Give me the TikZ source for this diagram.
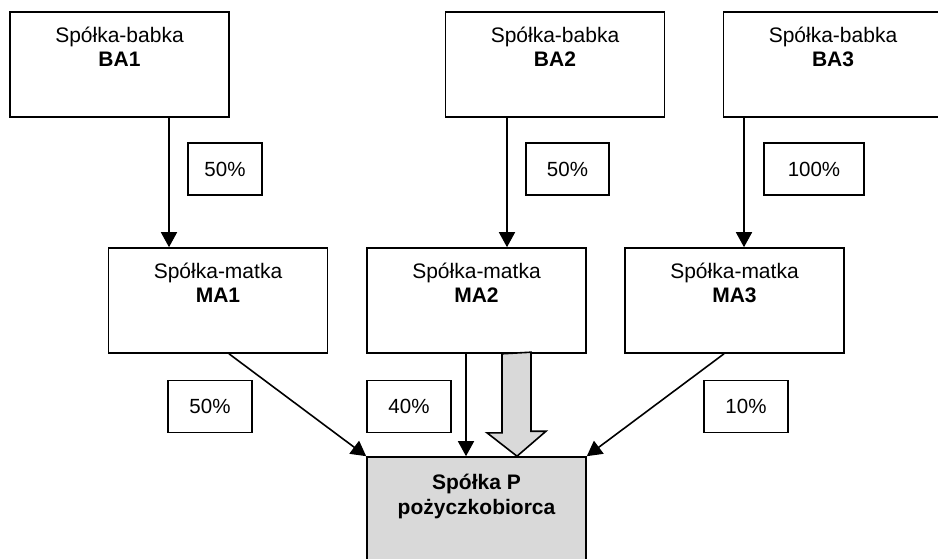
\documentclass[tikz,border=0pt]{standalone}
\usepackage{fontspec}
\setmainfont{Liberation Sans}
\usetikzlibrary{arrows.meta}
\definecolor{pgray}{RGB}{217,217,217}

\begin{document}
\begin{tikzpicture}[x=1pt, y=-1pt, >={Triangle[length=15pt,width=16pt]}, line width=1.6pt]
    \tikzstyle{firm}=[rectangle, draw, minimum width=219pt, minimum height=105pt, inner sep=0pt]
    \tikzstyle{firmtext}=[anchor=base, yshift=-55pt, align=center, inner sep=0pt, font=\fontsize{21}{24}\selectfont]
    \tikzstyle{share}=[rectangle, draw, minimum width=84pt, minimum height=52pt, inner sep=2pt, font=\fontsize{20.5}{24}\selectfont]

    \useasboundingbox (0,0) rectangle (938,559);

    % spolki-babki
    \node[firm, label={[firmtext, name=ba1t]north:Spółka-babka\\\textbf{BA1}}] (ba1) at (119.5,64.5) {};
    \node[firm, label={[firmtext, name=ba2t]north:Spółka-babka\\\textbf{BA2}}] (ba2) at (555,64.5) {};
    \node[firm, label={[firmtext, name=ba3t]north:Spółka-babka\\\textbf{BA3}}] (ba3) at (833,64.5) {};

    % spolki-matki
    \node[firm, label={[firmtext, name=ma1t]north:Spółka-matka\\\textbf{MA1}}] (ma1) at (218,300.5) {};
    \node[firm, label={[firmtext, name=ma2t]north:Spółka-matka\\\textbf{MA2}}] (ma2) at (476.5,300.5) {};
    \node[firm, label={[firmtext, name=ma3t]north:Spółka-matka\\\textbf{MA3}}] (ma3) at (734.5,300.5) {};

    % pozyczkobiorca
    \node[firm, fill=pgray, label={[firmtext, yshift=-3pt, font=\fontsize{21}{25}\selectfont\bfseries, name=pt]north:Spółka P\\pożyczkobiorca}] (p) at (476.5,509.5) {};

    % udzialy
    \node[share, minimum width=74pt] (s1) at (225,169) {50\%};
    \node[share, minimum width=83pt] (s2) at (567.5,169) {50\%};
    \node[share, minimum width=100pt] (s3) at (814,169) {100\%};
    \node[share] (s4) at (210,406.5) {50\%};
    \node[share] (s5) at (409,406.5) {40\%};
    \node[share] (s6) at (746,406.5) {10\%};

    \draw[->] ([xshift=49.5pt]ba1.south) -- ([xshift=-49pt]ma1.north);
    \draw[->] ([xshift=-48pt]ba2.south) -- ([xshift=30.5pt]ma2.north);
    \draw[->] ([xshift=-89pt]ba3.south) -- ([xshift=9.5pt]ma3.north);

    \draw[->] ([xshift=11pt]ma1.south) -- (p.north west);
    \draw[->] ([xshift=-10.5pt]ma2.south) -- ([xshift=-10.5pt]p.north);
    \draw[->] ([xshift=-10.5pt]ma3.south) -- (p.north east);

    % gruba strzalka
    \draw[fill=pgray] ([xshift=25.5pt]ma2.south) -- ++(0,79) -- ++(-15,0)
        -- ([xshift=40.5pt]p.north) -- ++(29,-25) -- ++(-15,0) -- ++(0,-79) -- cycle;

\end{tikzpicture}
\end{document}
